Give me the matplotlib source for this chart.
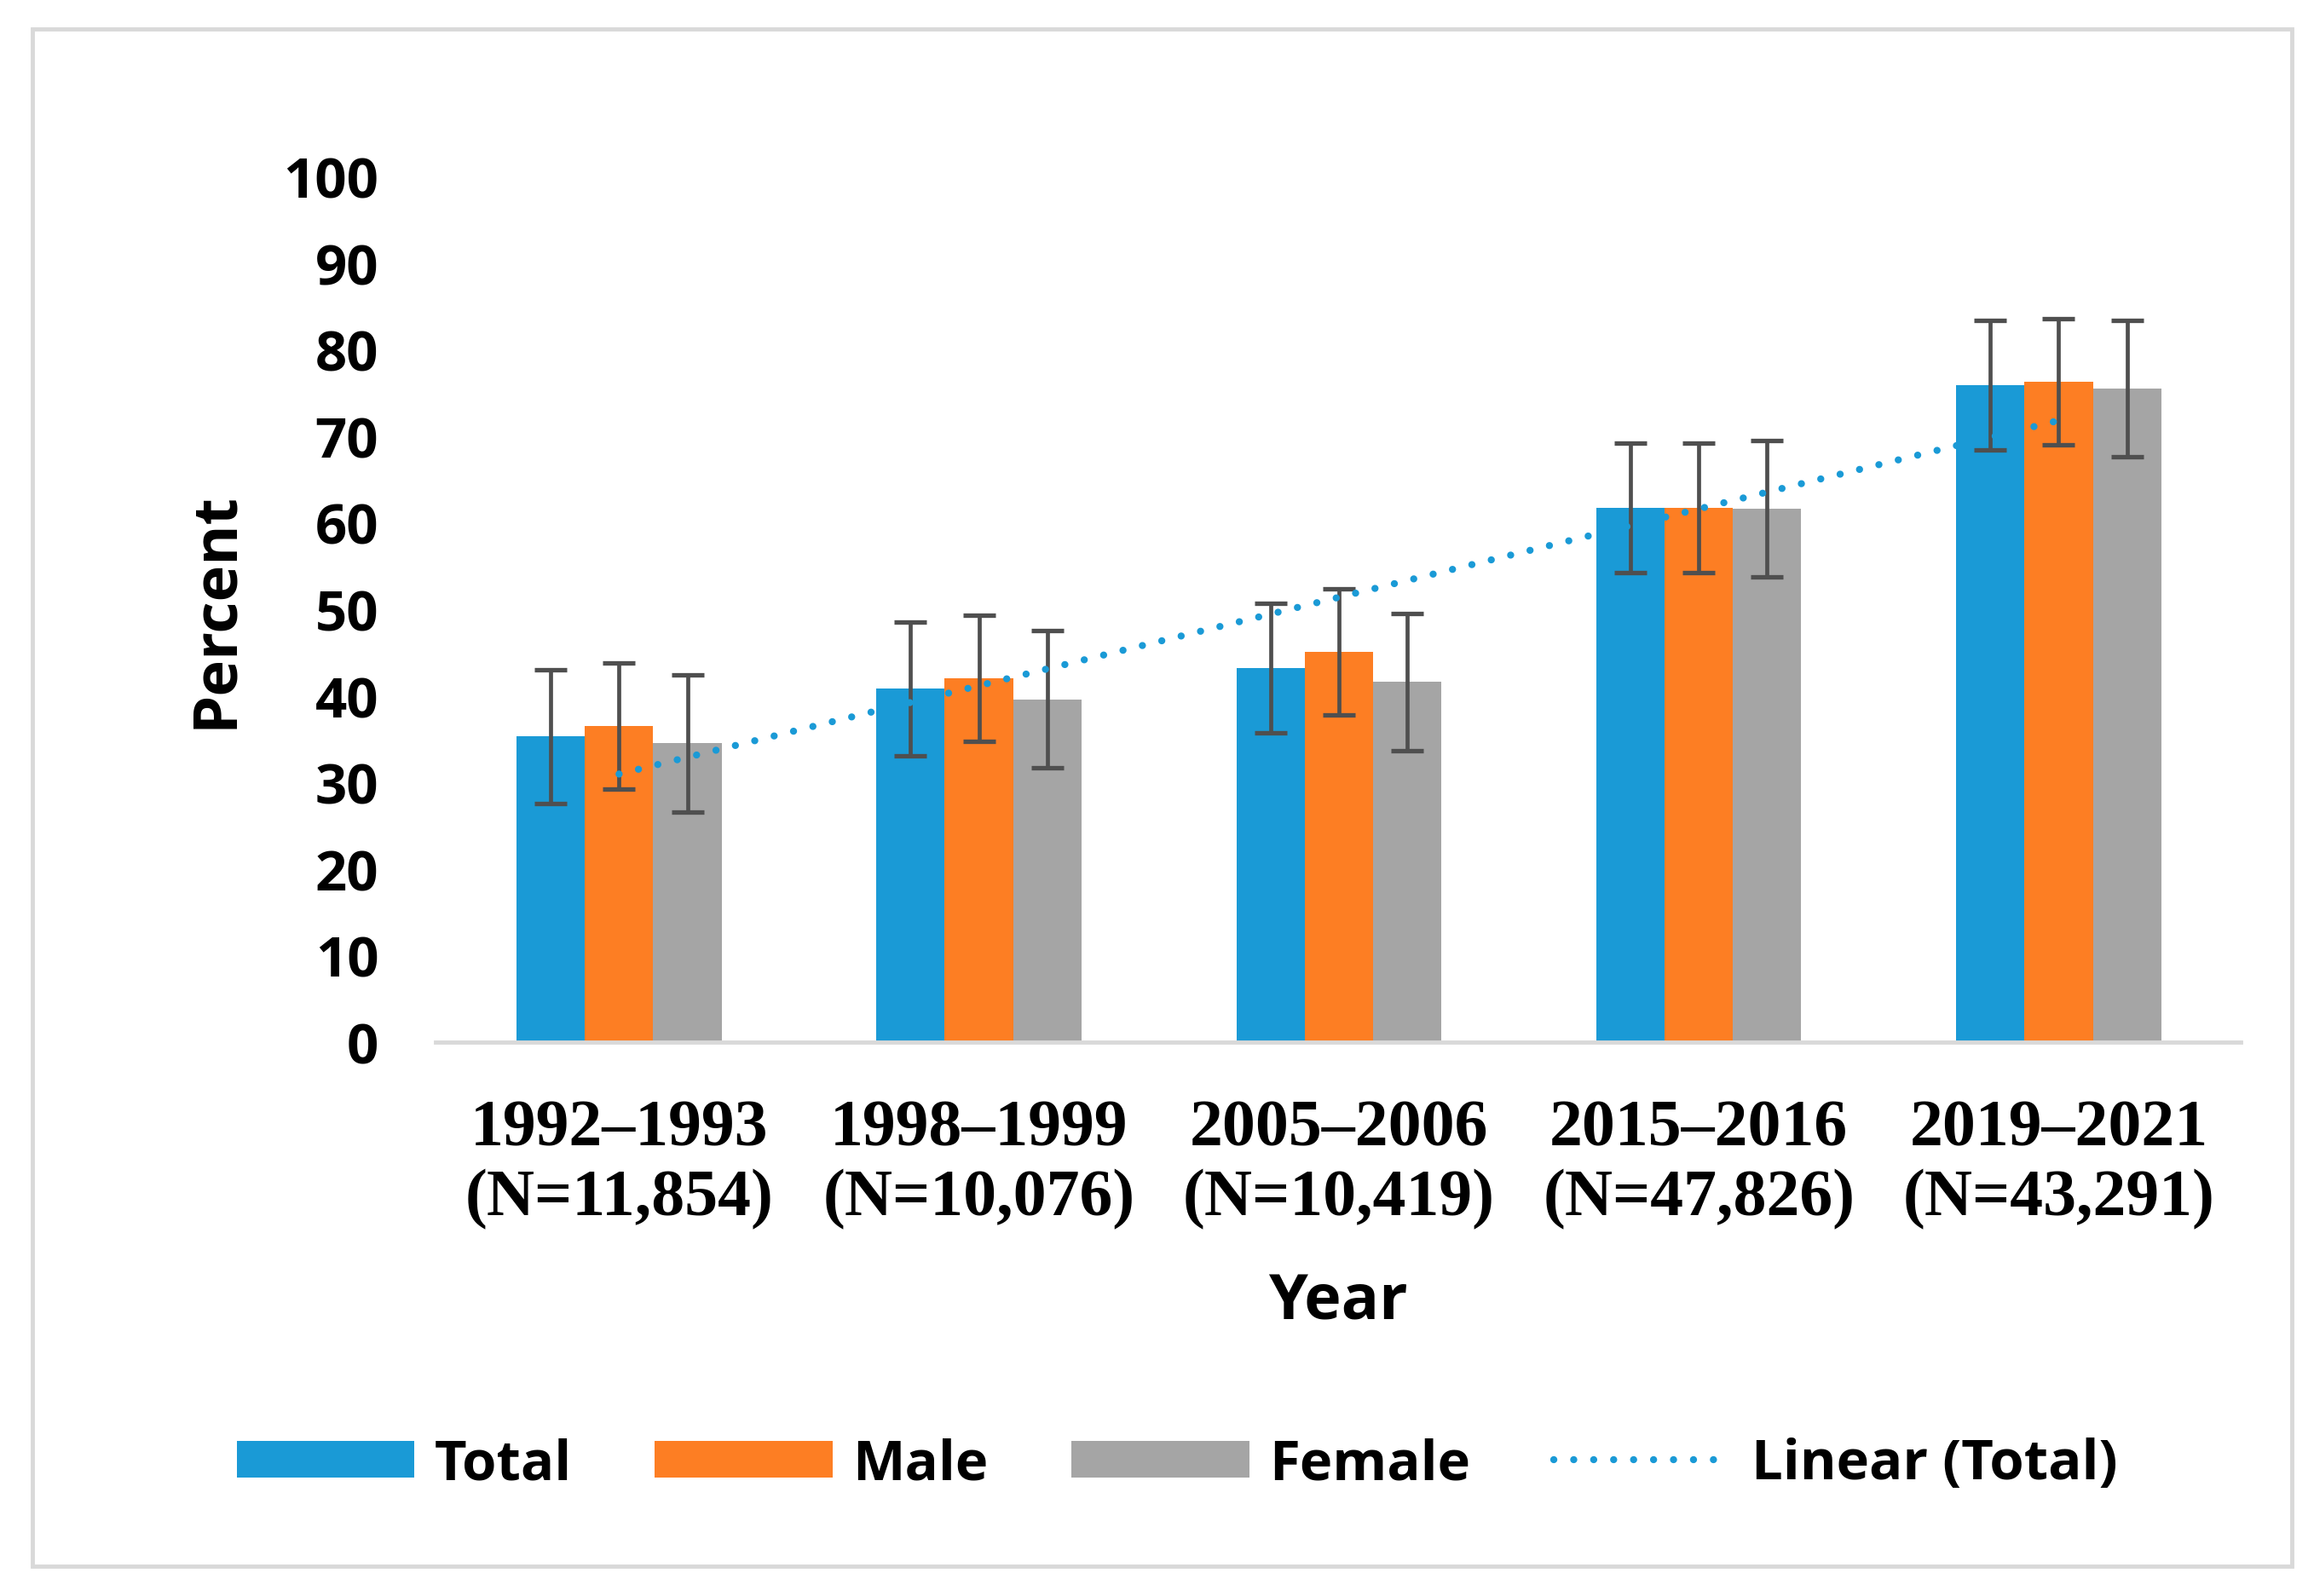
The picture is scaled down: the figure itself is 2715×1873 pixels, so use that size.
"""Grouped bar chart with error bars and a linear trend of the totals."""

import matplotlib
matplotlib.use("Agg")
import matplotlib.pyplot as plt
from matplotlib.patches import Rectangle
import numpy as np

# Data
periods = ["1992\u20131993", "1998\u20131999", "2005\u20132006", "2015\u20132016", "2019\u20132021"]
sample_sizes = ["11,854", "10,076", "10,419", "47,826", "43,291"]

total = [35.3, 40.8, 43.2, 61.7, 75.9]
male = [36.5, 42.0, 45.1, 61.7, 76.3]
female = [34.5, 39.6, 41.6, 61.6, 75.5]

total_err = [7.7, 7.7, 7.5, 7.5, 7.5]
male_err = [7.3, 7.3, 7.3, 7.5, 7.3]
female_err = [7.9, 7.9, 7.9, 7.9, 7.9]

y_ticks = [0, 10, 20, 30, 40, 50, 60, 70, 80, 90, 100]

BLUE = "#1A9AD6"
ORANGE = "#FD7E23"
GRAY = "#A5A5A5"
ERR = "#4F4F4F"
SANS = "Open Sans"
SERIF = "Liberation Serif"

fig = plt.figure(figsize=(27.15, 18.74), dpi=100)
ax = fig.add_axes([0.1882, 0.3469, 0.780, 0.5421])

x = np.arange(len(periods))
width = 0.19
err_kw = dict(ecolor=ERR, elinewidth=3.4, capsize=14, capthick=3.8)

ax.bar(x - width, total, width, color=BLUE, label="Total", yerr=total_err,
       error_kw=err_kw, zorder=2)
ax.bar(x, male, width, color=ORANGE, label="Male", yerr=male_err,
       error_kw=err_kw, zorder=2)
ax.bar(x + width, female, width, color=GRAY, label="Female", yerr=female_err,
       error_kw=err_kw, zorder=2)

# Linear trend of the totals (as in Excel's "Linear (Total)")
slope, intercept = np.polyfit(x, total, 1)
ax.plot(x, slope * x + intercept, color=BLUE, linewidth=6,
        linestyle=(0, (0.01, 2.8)), dash_capstyle="round",
        label="Linear (Total)", zorder=3)

ax.set_xlim(-0.51, 4.505)
ax.set_ylim(0, 100)
ax.set_yticks(y_ticks)
ax.set_yticklabels([str(v) for v in y_ticks], fontfamily=SANS,
                   fontweight="bold", fontsize=47)
ax.set_xticks(x)
ax.set_xticklabels([f"{p}\n(N={n})" for p, n in zip(periods, sample_sizes)],
                   fontfamily=SERIF, fontweight="bold", fontsize=56,
                   linespacing=1.2)
ax.tick_params(axis="y", length=0, pad=48)
ax.tick_params(axis="x", length=0, pad=48)

for side in ["top", "right", "left"]:
    ax.spines[side].set_visible(False)
ax.spines["bottom"].set_color("#D9D9D9")
ax.spines["bottom"].set_linewidth(3.5)

ax.set_ylabel("Percent", fontfamily=SANS, fontweight="bold", fontsize=52,
              labelpad=31)
ax.set_xlabel("Year", fontfamily=SANS, fontweight="bold", fontsize=53,
              labelpad=35)

handles, labels = ax.get_legend_handles_labels()
order = [1, 2, 3, 0]
fig.legend([handles[i] for i in order], [labels[i] for i in order],
           loc="center", bbox_to_anchor=(1381 / 2715, 1 - 1720 / 1874),
           ncol=4, frameon=False, handlelength=3.2, handleheight=0.62,
           handletextpad=0.35, columnspacing=1.5,
           prop=dict(family=SANS, weight="bold", size=47))

# light frame round the whole chart
fig.patches.append(Rectangle((38 / 2715, 1 - 1839 / 1874), (2689 - 38) / 2715,
                             (1839 - 35) / 1874, transform=fig.transFigure,
                             fill=False, edgecolor="#D9D9D9", linewidth=3.5))

plt.savefig("out.png", dpi=100)
plt.close()
